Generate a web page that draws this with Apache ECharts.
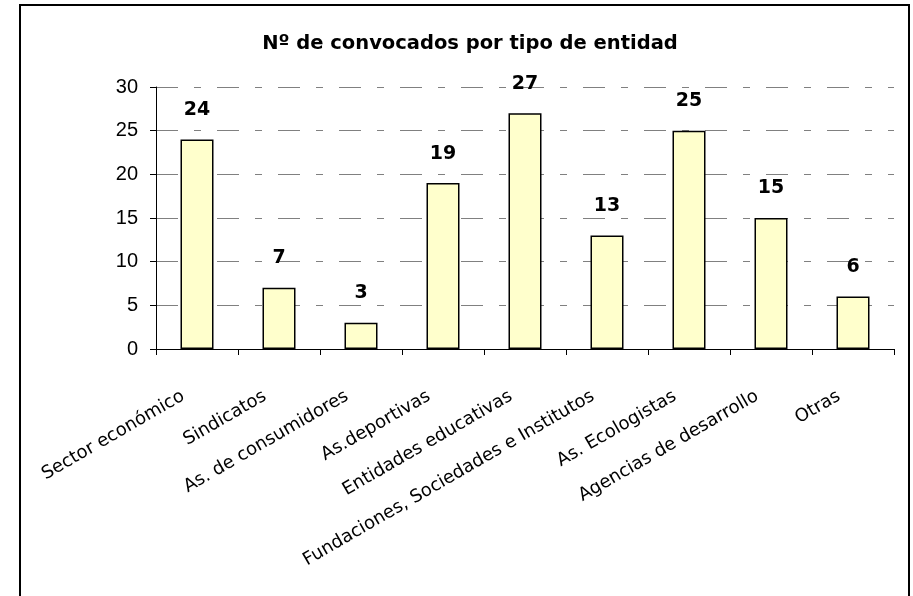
<!DOCTYPE html>
<html>
<head>
<meta charset="utf-8">
<script src="https://cdn.jsdelivr.net/npm/echarts@6/dist/echarts.min.js"></script>
<style>html,body{margin:0;padding:0;background:#fff}#c{width:913px;height:596px}</style>
</head>
<body>
<div id="c"></div>
<script>
const titleText = "Nº de convocados por tipo de entidad";
const categories = ["Sector económico","Sindicatos","As. de consumidores","As.deportivas","Entidades educativas","Fundaciones, Sociedades e Institutos","As. Ecologistas","Agencias de desarrollo","Otras"];
const values = [24, 7, 3, 19, 27, 13, 25, 15, 6];
const yMin = 0, yMax = 30, yStep = 5;

const chart = echarts.init(document.getElementById('c'), null, {renderer: 'canvas'});
chart.setOption({
  animation: false,
  backgroundColor: '#ffffff',
  title: {
    text: titleText,
    left: 465, top: 29, textAlign: 'center',
    textStyle: {fontFamily: 'DejaVu Sans', fontWeight: 'bold', fontSize: 19.5, color: '#000'}
  },
  graphic: [{
    type: 'rect', silent: true, z: 100,
    shape: {x: 20, y: 5, width: 889, height: 620},
    style: {fill: 'none', stroke: '#000', lineWidth: 2}
  }],
  grid: {left: 156, right: 19, top: 87, bottom: 247},
  xAxis: {
    type: 'category', data: categories,
    axisLine: {lineStyle: {color: '#000', width: 1}},
    axisTick: {show: true, length: 6, lineStyle: {color: '#000'}},
    axisLabel: {rotate: 30, interval: 0, margin: 38, padding: [0, 16, 0, 0], fontFamily: 'DejaVu Sans', fontSize: 18, color: '#000'}
  },
  yAxis: {
    type: 'value', min: yMin, max: yMax, interval: yStep,
    axisLine: {show: true, lineStyle: {color: '#000', width: 1}},
    axisTick: {show: true, length: 6, lineStyle: {color: '#000'}},
    axisLabel: {margin: 18, fontFamily: 'Liberation Sans', fontSize: 20, color: '#000'},
    splitLine: {show: true, lineStyle: {color: '#808080', width: 1, type: [22, 16, 7, 16]}}
  },
  series: [{
    type: 'bar', data: values, barWidth: 33,
    itemStyle: {color: '#FFFFCC', borderColor: '#000', borderWidth: 1.5},
    label: {show: true, position: 'top', distance: 20, fontFamily: 'DejaVu Sans', fontWeight: 'bold', fontSize: 19, color: '#000'}
  }]
});
</script>
</body>
</html>
